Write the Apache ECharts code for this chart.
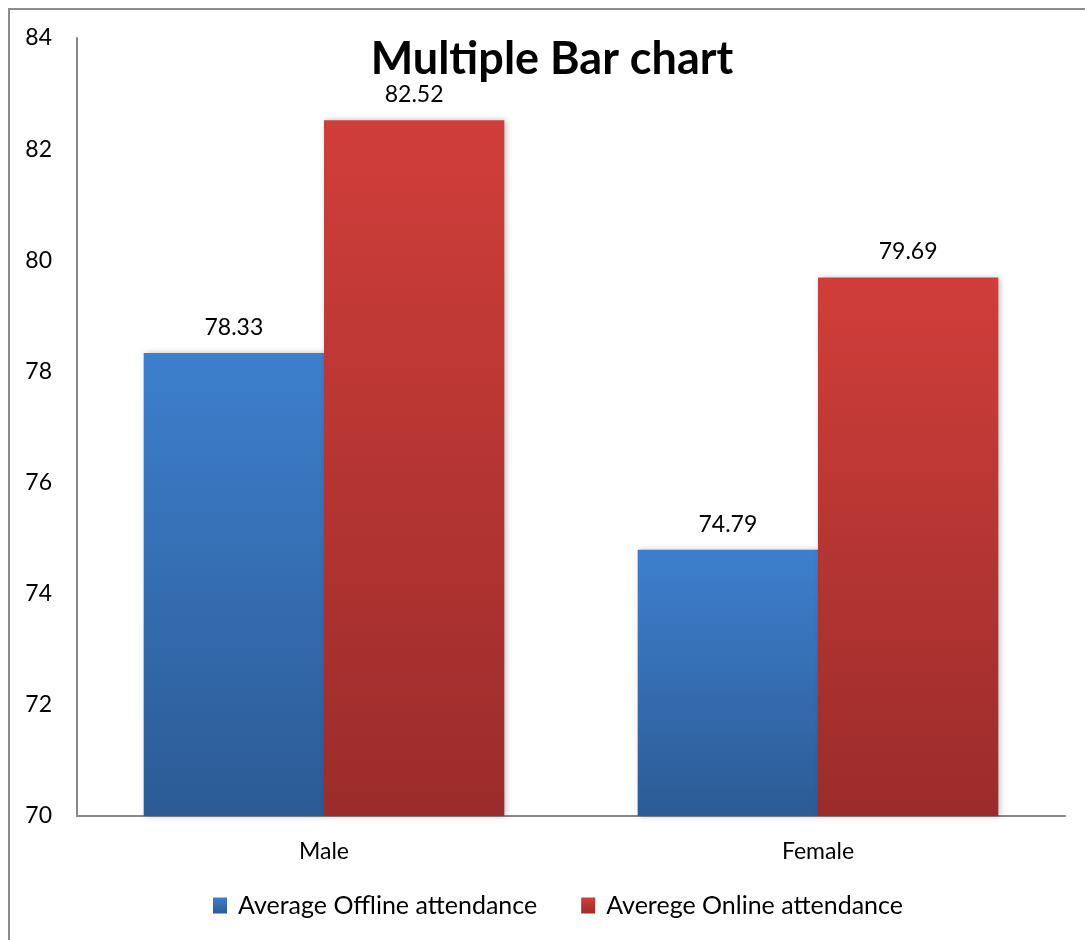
<!DOCTYPE html>
<html>
<head>
<meta charset="utf-8">
<script src="https://cdn.jsdelivr.net/npm/echarts@6/dist/echarts.min.js"></script>
<style>
  html, body { margin: 0; padding: 0; background: #fff; }
  #chart { width: 1085px; height: 940px; }
</style>
</head>
<body>
<div id="chart"></div>
<script>
// Attendance by gender, offline vs online
const categories = ['Male', 'Female'];
const offlineValues = [78.33, 74.79];
const onlineValues = [82.52, 79.69];
const seriesNames = ['Average Offline attendance', 'Averege Online attendance'];
const yMin = 70, yMax = 84, yStep = 2;

const FONT = 'Lato, "Open Sans", sans-serif';

function grad(top, bottom) {
  return new echarts.graphic.LinearGradient(0, 0, 0, 1, [
    { offset: 0, color: top },
    { offset: 1, color: bottom }
  ]);
}

const blue = grad('#3d7fcd', '#2c5b95');
const red = grad('#d03e3a', '#9b2c2b');

const labelStyle = {
  show: true,
  position: 'top',
  distance: 14,
  color: '#000',
  fontFamily: FONT,
  fontSize: 23
};

const chart = echarts.init(document.getElementById('chart'));
chart.setOption({
  animation: false,
  backgroundColor: '#fff',
  title: {
    text: 'Multiple Bar chart',
    left: 547,
    textAlign: 'center',
    top: 32,
    textStyle: { fontFamily: FONT, fontWeight: 'bold', fontSize: 45, color: '#000' }
  },
  graphic: [{
    type: 'rect',
    shape: { x: 9, y: 9, width: 1200, height: 1000 },
    style: { fill: 'none', stroke: '#8c8c8c', lineWidth: 2 },
    silent: true,
    z: -1
  }],
  legend: {
    bottom: 17,
    left: 208,
    itemWidth: 14,
    itemHeight: 16,
    itemGap: 44,
    icon: 'rect',
    textStyle: { fontFamily: FONT, fontSize: 25, color: '#000', padding: [0, 0, 0, 6] },
    data: seriesNames
  },
  grid: { left: 77, right: 20, top: 38, bottom: 124 },
  xAxis: {
    type: 'category',
    data: categories,
    axisLine: { lineStyle: { color: '#888', width: 2 } },
    axisTick: { show: false },
    axisLabel: { color: '#000', fontFamily: FONT, fontSize: 23, margin: 24 }
  },
  yAxis: {
    type: 'value',
    min: yMin,
    max: yMax,
    interval: yStep,
    axisLine: { show: true, lineStyle: { color: '#888', width: 2 } },
    axisTick: { show: false },
    splitLine: { show: false },
    axisLabel: { color: '#000', fontFamily: FONT, fontSize: 23, margin: 25 }
  },
  series: [
    {
      name: seriesNames[0],
      type: 'bar',
      data: offlineValues,
      barGap: '0%',
      barCategoryGap: '27%',
      itemStyle: { color: blue, shadowColor: 'rgba(0,0,0,0.25)', shadowBlur: 6, shadowOffsetX: 2 },
      label: labelStyle
    },
    {
      name: seriesNames[1],
      type: 'bar',
      data: onlineValues,
      barGap: '0%',
      barCategoryGap: '27%',
      itemStyle: { color: red, shadowColor: 'rgba(0,0,0,0.25)', shadowBlur: 6, shadowOffsetX: 2 },
      label: labelStyle
    }
  ]
});
</script>
</body>
</html>
